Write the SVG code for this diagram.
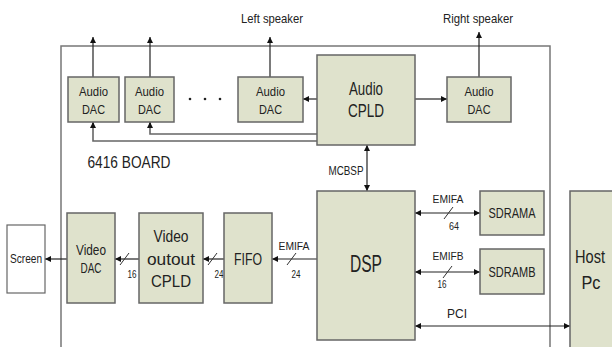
<svg xmlns="http://www.w3.org/2000/svg" width="612" height="347" viewBox="0 0 612 347">
<style>
text{font-family:"Liberation Sans Narrow","Liberation Sans",Arial,sans-serif;fill:#222;text-anchor:middle}
.box{fill:#dfe2cc;stroke:#666;stroke-width:1.5}
.wbox{fill:#fff;stroke:#666;stroke-width:1.2}
.ln{fill:none;stroke:#222;stroke-width:1.2}
.gl{fill:none;stroke:#666;stroke-width:1.6}
.sl{stroke:#333;stroke-width:1}
.s13{font-size:13px}
.s12{font-size:12px}
.s11{font-size:11px}
</style>
<defs>
<marker id="ah" viewBox="0 0 10 10" refX="10" refY="5" markerWidth="6" markerHeight="6" orient="auto-start-reverse" markerUnits="userSpaceOnUse">
<path d="M0,0 L10,5 L0,10 z" fill="#111"/>
</marker>
</defs>
<rect width="612" height="347" fill="#fff"/>
<g id="board">
<path d="M61,347 V46 H550 V347" fill="none" stroke="#777" stroke-width="1.5"/>
<text x="129" y="168" style="font-size:16px" textLength="83" lengthAdjust="spacingAndGlyphs">6416 BOARD</text>
</g>
<g id="connectors">
<line class="ln" x1="93" y1="77" x2="93" y2="37" marker-end="url(#ah)"/>
<line class="ln" x1="150" y1="77" x2="150" y2="37" marker-end="url(#ah)"/>
<line class="ln" x1="270" y1="77" x2="270" y2="37" marker-end="url(#ah)"/>
<line class="ln" x1="479" y1="77" x2="479" y2="32" marker-end="url(#ah)"/>
<line class="ln" x1="317" y1="99" x2="303" y2="99" marker-end="url(#ah)"/>
<line class="ln" x1="415" y1="99" x2="447" y2="99" marker-end="url(#ah)"/>
<polyline class="gl" points="317,134 150,134 150,123"/>
<polyline class="gl" points="317,141 93,141 93,123"/>
<line class="ln" x1="150" y1="127" x2="150" y2="122" marker-end="url(#ah)"/>
<line class="ln" x1="93" y1="127" x2="93" y2="122" marker-end="url(#ah)"/>
<line class="ln" x1="367" y1="145" x2="367" y2="191" marker-start="url(#ah)" marker-end="url(#ah)"/>
<text class="s12" x="346" y="175" textLength="35" lengthAdjust="spacingAndGlyphs">MCBSP</text>
<line class="ln" x1="415" y1="213" x2="480" y2="213" marker-start="url(#ah)" marker-end="url(#ah)"/>
<line class="sl" x1="444" y1="219" x2="453" y2="207"/>
<text class="s11" x="448" y="203" textLength="31" lengthAdjust="spacingAndGlyphs">EMIFA</text>
<text class="s11" x="454" y="230" textLength="10" lengthAdjust="spacingAndGlyphs">64</text>
<line class="ln" x1="415" y1="272" x2="480" y2="272" marker-start="url(#ah)" marker-end="url(#ah)"/>
<line class="sl" x1="443" y1="278" x2="452" y2="266"/>
<text class="s11" x="448" y="260" textLength="31" lengthAdjust="spacingAndGlyphs">EMIFB</text>
<text class="s11" x="442" y="288" textLength="9" lengthAdjust="spacingAndGlyphs">16</text>
<line class="ln" x1="415" y1="326" x2="570" y2="326" marker-start="url(#ah)" marker-end="url(#ah)"/>
<text class="s12" x="457" y="318" textLength="20" lengthAdjust="spacingAndGlyphs">PCI</text>
<line class="ln" x1="317" y1="259" x2="272" y2="259" marker-end="url(#ah)"/>
<line class="sl" x1="287" y1="265" x2="296" y2="253"/>
<text class="s11" x="294" y="250" textLength="31" lengthAdjust="spacingAndGlyphs">EMIFA</text>
<text class="s11" x="296" y="278" textLength="9" lengthAdjust="spacingAndGlyphs">24</text>
<line class="ln" x1="224" y1="259" x2="203" y2="259" marker-end="url(#ah)"/>
<line class="sl" x1="208" y1="265" x2="217" y2="253"/>
<text class="s11" x="219" y="278" textLength="9" lengthAdjust="spacingAndGlyphs">24</text>
<line class="ln" x1="139" y1="259" x2="115" y2="259" marker-end="url(#ah)"/>
<line class="sl" x1="120" y1="265" x2="129" y2="253"/>
<text class="s11" x="132" y="278" textLength="9" lengthAdjust="spacingAndGlyphs">16</text>
<line class="ln" x1="67" y1="259" x2="45" y2="259" marker-end="url(#ah)"/>
</g>
<g id="labels">
<text class="s13" x="272" y="23" textLength="62" lengthAdjust="spacingAndGlyphs">Left speaker</text>
<text class="s13" x="478" y="23" textLength="70" lengthAdjust="spacingAndGlyphs">Right speaker</text>
<circle cx="190" cy="99" r="1.3" fill="#222"/>
<circle cx="205" cy="99" r="1.3" fill="#222"/>
<circle cx="220" cy="99" r="1.3" fill="#222"/>
</g>
<g id="dac1"><rect class="box" x="68" y="77" width="51" height="45"/><text class="s13" x="93.5" y="96" textLength="29" lengthAdjust="spacingAndGlyphs">Audio</text><text class="s13" x="93.5" y="114" textLength="23" lengthAdjust="spacingAndGlyphs">DAC</text></g>
<g id="dac2"><rect class="box" x="125" y="77" width="49" height="45"/><text class="s13" x="149.5" y="96" textLength="29" lengthAdjust="spacingAndGlyphs">Audio</text><text class="s13" x="149.5" y="114" textLength="23" lengthAdjust="spacingAndGlyphs">DAC</text></g>
<g id="dac3"><rect class="box" x="238" y="77" width="65" height="45"/><text class="s13" x="270.5" y="96" textLength="29" lengthAdjust="spacingAndGlyphs">Audio</text><text class="s13" x="270.5" y="114" textLength="23" lengthAdjust="spacingAndGlyphs">DAC</text></g>
<g id="dac4"><rect class="box" x="447" y="77" width="64" height="45"/><text class="s13" x="479" y="96" textLength="29" lengthAdjust="spacingAndGlyphs">Audio</text><text class="s13" x="479" y="114" textLength="23" lengthAdjust="spacingAndGlyphs">DAC</text></g>
<g id="audio-cpld"><rect class="box" x="317" y="55" width="98" height="90"/><text x="366" y="95" style="font-size:18px" textLength="34" lengthAdjust="spacingAndGlyphs">Audio</text><text x="366" y="117" style="font-size:18px" textLength="36" lengthAdjust="spacingAndGlyphs">CPLD</text></g>
<g id="dsp"><rect class="box" x="317" y="191" width="98" height="149"/><text x="366" y="272" style="font-size:24px" textLength="32" lengthAdjust="spacingAndGlyphs">DSP</text></g>
<g id="sdrama"><rect class="box" x="480" y="191" width="64" height="44"/><text x="512" y="218" style="font-size:15px" textLength="47" lengthAdjust="spacingAndGlyphs">SDRAMA</text></g>
<g id="sdramb"><rect class="box" x="480" y="249" width="64" height="45"/><text x="512" y="277" style="font-size:15px" textLength="47" lengthAdjust="spacingAndGlyphs">SDRAMB</text></g>
<g id="host"><rect class="box" x="570" y="191" width="60" height="170"/><text x="590" y="263" style="font-size:19px" textLength="30" lengthAdjust="spacingAndGlyphs">Host</text><text x="591" y="289" style="font-size:19px" textLength="19" lengthAdjust="spacingAndGlyphs">Pc</text></g>
<g id="video-dac"><rect class="box" x="67" y="213" width="48" height="90"/><text x="91" y="255" style="font-size:15px" textLength="30" lengthAdjust="spacingAndGlyphs">Video</text><text x="91" y="273" style="font-size:15px" textLength="21" lengthAdjust="spacingAndGlyphs">DAC</text></g>
<g id="video-cpld"><rect class="box" x="139" y="213" width="64" height="90"/><text x="171" y="242" style="font-size:16px" textLength="35" lengthAdjust="spacingAndGlyphs">Video</text><text x="171" y="265" style="font-size:16px" textLength="48" lengthAdjust="spacingAndGlyphs">outout</text><text x="171" y="287" style="font-size:16px" textLength="40" lengthAdjust="spacingAndGlyphs">CPLD</text></g>
<g id="fifo"><rect class="box" x="224" y="213" width="48" height="90"/><text x="248" y="265" style="font-size:16px" textLength="28" lengthAdjust="spacingAndGlyphs">FIFO</text></g>
<g id="screen"><rect class="wbox" x="7" y="225" width="38" height="68"/><text class="s12" x="26" y="263" textLength="32" lengthAdjust="spacingAndGlyphs">Screen</text></g>
</svg>
